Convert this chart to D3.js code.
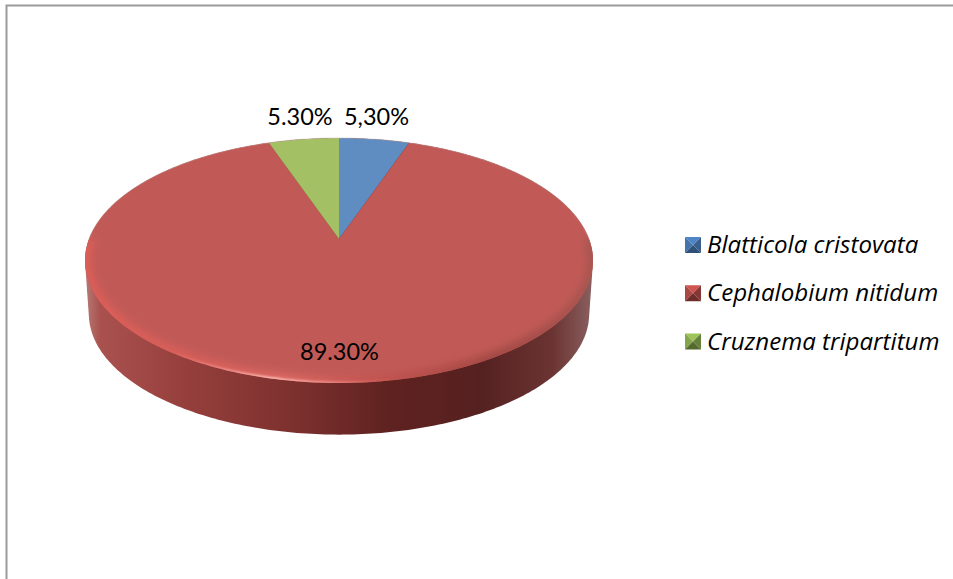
<!DOCTYPE html>
<html><head><meta charset="utf-8">
<script src="https://cdn.jsdelivr.net/npm/d3@7/dist/d3.min.js"></script>
<style>html,body{margin:0;padding:0;background:#fff}svg{display:block}text{font-family:Lato,Carlito,sans-serif;fill:#000}</style>
</head><body><svg id="c" width="953" height="579"></svg>
<script>
const categories = ["Blatticola cristovata","Cephalobium nitidum","Cruznema tripartitum"];
const values = [5.3,89.3,5.3];
const valueLabels = ["5,30%","89.30%","5.30%"];
const topColors = ["#5f8cc1","#c15a57","#a3c065"];
const legendLight = [["#4f85c8","#4474ac"],["#cf5450","#ab4744"],["#9cc456","#84a54b"]];
const legendDark = [["#2f5078","#3a5f8c"],["#6e2c2a","#863735"],["#55692f","#65803a"]];

const svg = d3.select("#c"), defs = svg.append("defs");
// Frame
svg.append("path").attr("d","M6.5,579V5.5H953").attr("fill","none").attr("stroke","#9a9a9a").attr("stroke-width",2);

// Perspective projection of the unit disc
const cx=339, cy=239, A=250, B=118.7, k=0.1755;
const proj=(theta,r=1)=>{const u=r*Math.sin(theta),v=-r*Math.cos(theta),w=1-k*v;return [cx+A*u/w,cy+B*v/w];};
const pie=d3.pie().sort(null).value(d=>d)(values);
const arcPts=(a0,a1,n=Math.max(8,Math.ceil((a1-a0)*60)))=>d3.range(n+1).map(i=>proj(a0+(a1-a0)*i/n));
const line=d3.line();
const fullRim=arcPts(0,2*Math.PI,400);
const rimPath=line(fullRim)+"Z";

// Side wall
const sideScale=0.985, sideDrop=53.5, midY=260.5;
const lowRim=fullRim.map(([x,y])=>[cx+(x-cx)*sideScale, midY+(y-midY)*sideScale+sideDrop]);
const hull=d3.polygonHull(fullRim.concat(lowRim));
const sg=defs.append("linearGradient").attr("id","side").attr("gradientUnits","userSpaceOnUse").attr("x1",85).attr("x2",593).attr("y1",0).attr("y2",0);
[[0,"#b87a77"],[0.03,"#a9514e"],[0.2,"#953f3c"],[0.42,"#7b302e"],[0.6,"#5f2220"],[0.78,"#552120"],[0.92,"#6b3432"],[1,"#8a6060"]]
 .forEach(([o,c])=>sg.append("stop").attr("offset",o).attr("stop-color",c));
svg.append("path").attr("d",line(hull)+"Z").attr("fill","url(#side)");

// Top surface
defs.append("clipPath").attr("id","topClip").append("path").attr("d",rimPath);
defs.append("filter").attr("id","b1").attr("x","-10%").attr("y","-10%").attr("width","120%").attr("height","120%").append("feGaussianBlur").attr("stdDeviation",4);
defs.append("filter").attr("id","b2").attr("x","-10%").attr("y","-10%").attr("width","120%").attr("height","120%").append("feGaussianBlur").attr("stdDeviation",1);
const topG=svg.append("g");
topG.selectAll("path.w").data(pie).join("path").attr("class","w")
 .attr("d",d=>line([[cx,cy],...arcPts(d.startAngle,d.endAngle)])+"Z")
 .attr("fill",(d,i)=>topColors[i]);
topG.append("path").attr("d",line(arcPts(-Math.PI/2,Math.PI/2,200))).attr("fill","none").attr("stroke","#c8a8a6").attr("stroke-width",1).attr("opacity",0.45);

// Bevel along the near rim
const bevel=svg.append("g").attr("clip-path","url(#topClip)");
const bg=defs.append("linearGradient").attr("id","bev").attr("gradientUnits","userSpaceOnUse").attr("x1",85).attr("x2",593).attr("y1",0).attr("y2",0);
[[0,"#de5e59"],[0.2,"#dc5e58"],[0.4,"#df6a64"],[0.55,"#c65450"],[0.8,"#a04642"],[1,"#a85550"]]
 .forEach(([o,c])=>bg.append("stop").attr("offset",o).attr("stop-color",c));
const hg=defs.append("linearGradient").attr("id","hi").attr("gradientUnits","userSpaceOnUse").attr("x1",170).attr("x2",400).attr("y1",0).attr("y2",0);
[[0,"#ffb0a8",0],[0.45,"#ffc8c0",1],[0.7,"#f5968e",0.8],[1,"#e06a64",0]]
 .forEach(([o,c,a])=>hg.append("stop").attr("offset",o).attr("stop-color",c).attr("stop-opacity",a));
const frontPath=line(arcPts(Math.PI*0.5,Math.PI*1.5,200));
bevel.append("path").attr("d",frontPath).attr("fill","none").attr("stroke","url(#bev)").attr("stroke-width",12).attr("filter","url(#b1)");
bevel.append("path").attr("d",frontPath).attr("fill","none").attr("stroke","url(#hi)").attr("stroke-width",3).attr("filter","url(#b2)");

// Value labels
const labelPos=[[376.5,125],[339.5,360],[300,125]];
svg.selectAll("text.v").data(valueLabels).join("text").attr("class","v")
 .attr("x",(d,i)=>labelPos[i][0]).attr("y",(d,i)=>labelPos[i][1])
 .attr("text-anchor","middle").attr("font-size",23.5).text(d=>d);

// Legend
const ly=d3.scalePoint().domain(categories).range([245,341.5]);
const lg=svg.selectAll("g.l").data(categories).join("g").attr("class","l").attr("transform",d=>`translate(685,${ly(d)})`);
const s=8;
categories.forEach((c,i)=>{
 const g=lg.filter(d=>d===c);
 const tri=(pts,col)=>g.append("path").attr("d",line(pts)+"Z").attr("fill",col);
 tri([[0,-s],[2*s,-s],[s,0]],legendLight[i][0]);
 tri([[0,-s],[s,0],[0,s]],legendLight[i][1]);
 tri([[0,s],[s,0],[2*s,s]],legendDark[i][0]);
 tri([[2*s,-s],[s,0],[2*s,s]],legendDark[i][1]);
});
lg.append("text").attr("x",22).attr("y",8).attr("font-size",24.1).attr("font-style","italic").style("font-family","'Open Sans',sans-serif").text(d=>d);
</script></body></html>
